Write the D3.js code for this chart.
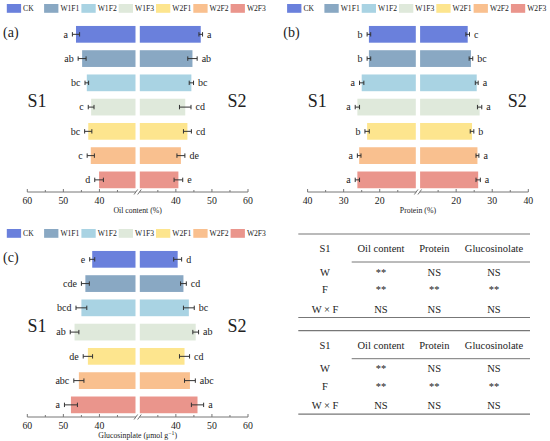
<!DOCTYPE html>
<html><head><meta charset="utf-8">
<script src="https://cdn.jsdelivr.net/npm/d3@7"></script>
<style>body{margin:0;background:#fff}svg{display:block}svg text{font-family:"Liberation Serif","Times New Roman",serif;fill:#222}</style>
</head><body>
<script>
const categories = ["CK","W1F1","W1F2","W1F3","W2F1","W2F2","W2F3"];
const colors = ["#6a80dc","#89a8c3","#a9d3e3","#dfe9db","#fde58e","#f9c08f","#ea958c"];

const oilS1 = [46.5,44.8,43.5,42.3,43.1,42.4,40.1];
const oilS1Err = [1.0,1.1,0.5,0.8,1.0,1.0,1.2];
const oilS1Let = ["a","ab","bc","c","bc","c","d"];
const oilS2 = [46.9,44.6,44.3,42.6,43.2,41.4,40.7];
const oilS2Err = [0.5,1.3,0.6,1.6,1.1,1.1,1.2];
const oilS2Let = ["a","ab","bc","cd","cd","de","e"];

const proS1 = [23.0,23.0,25.0,26.2,23.5,25.7,26.2];
const proS1Err = [0.5,0.5,0.6,0.6,0.6,0.5,0.6];
const proS1Let = ["b","b","a","a","b","a","a"];
const proS2 = [23.2,24.1,25.7,26.5,24.4,25.9,26.1];
const proS2Err = [0.5,0.5,0.4,0.6,0.5,0.4,0.6];
const proS2Let = ["c","bc","a","a","b","a","a"];

const gluS1 = [42.0,43.9,45.0,46.9,43.2,45.7,47.9];
const gluS1Err = [0.7,1.1,1.5,1.2,1.3,1.4,1.8];
const gluS1Let = ["e","cde","bcd","ab","de","abc","a"];
const gluS2 = [40.5,42.1,43.6,45.5,42.4,43.9,46.0];
const gluS2Err = [1.1,0.8,1.5,0.8,1.4,1.5,1.7];
const gluS2Let = ["d","cd","bc","ab","cd","abc","a"];

const oilTicks = [60,50,40];
const proTicks = [40,30,20];

const tableHeader = ["S1","Oil content","Protein","Glucosinolate"];
const tableRows = [["W","**","NS","NS"],["F","**","**","**"],["W × F","NS","NS","NS"]];

const W = 550, H = 441;
const FONT = "Liberation Serif, Times New Roman, serif";
const svg = d3.select("body").append("svg").attr("width",W).attr("height",H).attr("font-family",FONT);

function panel(ox, oy, cfg){
  const g = svg.append("g").attr("transform",`translate(${ox},${oy})`);
  const lg = g.append("g");
  categories.forEach((c,i)=>{
    const x = 6.8 + i*37.3;
    lg.append("rect").attr("x",x).attr("y",4).attr("width",14.3).attr("height",8.8).attr("fill",colors[i]);
    lg.append("text").attr("x",x+16.3).attr("y",11.3).attr("font-size",7.6).text(c);
  });
  g.append("text").attr("x",3).attr("y",36.5).attr("font-size",14).text(cfg.tag);

  const xl = d3.scaleLinear().domain([cfg.max,cfg.min]).range([27.3,135.5]);
  const xr = d3.scaleLinear().domain([cfg.min,cfg.max]).range([139.8,248]);
  const y = d3.scaleBand().domain(categories).range([22.2,192]).paddingInner(0.31).paddingOuter(0.155);
  const bh = y.bandwidth();

  categories.forEach((c,i)=>{
    const yc = y(c)+bh/2;
    const v1 = cfg.s1[i], e1 = cfg.e1[i];
    g.append("rect").attr("x",xl(v1)).attr("y",y(c)).attr("width",xl(cfg.min)-xl(v1)).attr("height",bh).attr("fill",colors[i]);
    const v2 = cfg.s2[i], e2 = cfg.e2[i];
    g.append("rect").attr("x",xr(cfg.min)).attr("y",y(c)).attr("width",xr(v2)-xr(cfg.min)).attr("height",bh).attr("fill",colors[i]);
    [[xl(v1-e1),xl(v1+e1)],[xr(v2-e2),xr(v2+e2)]].forEach(([a,b])=>{
      g.append("line").attr("x1",a).attr("x2",b).attr("y1",yc).attr("y2",yc).attr("stroke","#333").attr("stroke-width",1);
      [a,b].forEach(xx=>g.append("line").attr("x1",xx).attr("x2",xx).attr("y1",yc-2.2).attr("y2",yc+2.2).attr("stroke","#333").attr("stroke-width",1));
    });
    g.append("text").attr("x",xl(v1+e1)-4.5).attr("y",yc+3.2).attr("text-anchor","end").attr("font-size",10).text(cfg.l1[i]);
    g.append("text").attr("x",xr(v2+e2)+4.5).attr("y",yc+3.2).attr("font-size",10).text(cfg.l2[i]);
  });

  g.append("text").attr("x",37).attr("y",107).attr("text-anchor","middle").attr("font-size",18).text("S1");
  g.append("text").attr("x",237).attr("y",107).attr("text-anchor","middle").attr("font-size",18).text("S2");

  const ay = 192;
  const axC = "#777";
  g.append("line").attr("x1",xl(cfg.max)).attr("x2",xl(cfg.min)+0.5).attr("y1",ay).attr("y2",ay).attr("stroke",axC);
  g.append("line").attr("x1",xr(cfg.min)-0.5).attr("x2",xr(cfg.max)).attr("y1",ay).attr("y2",ay).attr("stroke",axC);
  const minor = d3.range(cfg.min+5, cfg.max+0.1, 5);
  minor.forEach(v=>{
    [xl(v),xr(v)].forEach(xx=>g.append("line").attr("x1",xx).attr("x2",xx).attr("y1",ay).attr("y2",ay-(v%10===0?3:2)).attr("stroke",axC));
  });
  cfg.ticks.forEach(v=>{
    [xl(v),xr(v)].forEach(xx=>g.append("text").attr("x",xx).attr("y",ay+11.5).attr("text-anchor","middle").attr("font-size",9.8).text(v));
  });
  const bx = (xl(cfg.min)+xr(cfg.min))/2;
  [-1.8,1.8].forEach(d=>g.append("line").attr("x1",bx+d-1.8).attr("x2",bx+d+1.8).attr("y1",ay+2.5).attr("y2",ay-2.5).attr("stroke",axC));

  const t = g.append("text").attr("x",bx).attr("y",ay+21).attr("text-anchor","middle").attr("font-size",7.8);
  t.text(cfg.title);
  if(cfg.sup){ t.append("tspan").attr("font-size",5.8).attr("dy",-3).text(cfg.sup); t.append("tspan").attr("dy",3).text(")"); }
}

panel(0,0,{tag:"(a)",min:30,max:60,ticks:oilTicks,s1:oilS1,e1:oilS1Err,l1:oilS1Let,s2:oilS2,e2:oilS2Err,l2:oilS2Let,title:"Oil content (%)"});
panel(280.3,0,{tag:"(b)",min:10,max:40,ticks:proTicks,s1:proS1,e1:proS1Err,l1:proS1Let,s2:proS2,e2:proS2Err,l2:proS2Let,title:"Protein (%)"});
panel(0,225,{tag:"(c)",min:30,max:60,ticks:oilTicks,s1:gluS1,e1:gluS1Err,l1:gluS1Let,s2:gluS2,e2:gluS2Err,l2:gluS2Let,title:"Glucosinplate (μmol g",sup:"−1"});

const colX = [325,381,434.3,494];
function table(top){
  const g = svg.append("g");
  const lc = "#777";
  g.append("line").attr("x1",298.3).attr("x2",530).attr("y1",top).attr("y2",top).attr("stroke",lc).attr("stroke-width",1.2);
  tableHeader.forEach((h,i)=>g.append("text").attr("x",colX[i]).attr("y",top+18).attr("text-anchor","middle").attr("font-size",10.5).text(h));
  g.append("line").attr("x1",351.7).attr("x2",530).attr("y1",top+28).attr("y2",top+28).attr("stroke",lc).attr("stroke-width",1);
  const rowY = [top+41.5, top+59, top+78.5];
  tableRows.forEach((r,ri)=>r.forEach((c,ci)=>g.append("text").attr("x",colX[ci]).attr("y",rowY[ri]).attr("text-anchor","middle").attr("font-size",10.5).text(c)));
  g.append("line").attr("x1",298.3).attr("x2",530).attr("y1",top+83.5).attr("y2",top+83.5).attr("stroke",lc).attr("stroke-width",1.2);
}
table(234);
table(330.7);
</script>
</body></html>
